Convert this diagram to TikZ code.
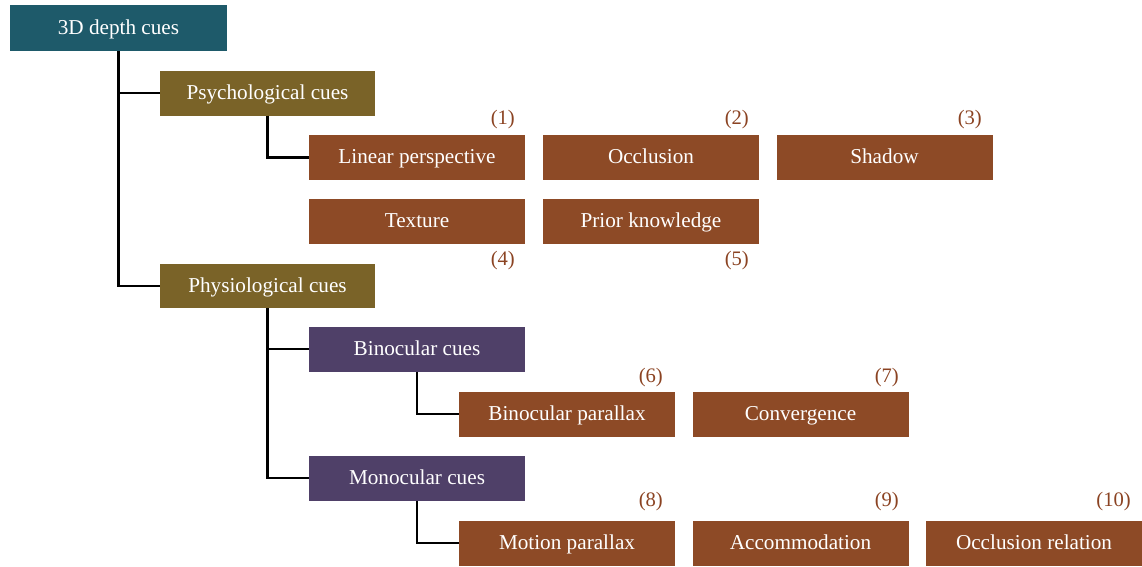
\documentclass[tikz,border=0pt]{standalone}
\usepackage{fontspec}
\setmainfont{Liberation Serif}
\definecolor{cteal}{HTML}{1E5A6A}
\definecolor{colive}{HTML}{7A6328}
\definecolor{cbrown}{HTML}{8D4A26}
\definecolor{cpurple}{HTML}{4F4068}
\definecolor{clabel}{HTML}{8B4322}
\tikzset{
  box/.style={rectangle, minimum width=216pt, minimum height=45pt, inner sep=0pt,
    text=white, font=\fontsize{21.2}{24}\selectfont, text height=16.5pt, text depth=4pt},
  rootbox/.style={box, fill=cteal, minimum width=217pt, minimum height=46pt},
  olivebox/.style={box, fill=colive, minimum width=215pt},
  purplebox/.style={box, fill=cpurple},
  leafbox/.style={box, fill=cbrown},
  numlabel/.style={anchor=east, inner sep=0pt, text=clabel, font=\fontsize{20.6}{24}\selectfont},
  conn/.style={draw=black, line width=2.6pt}
}
\begin{document}
\begin{tikzpicture}[x=1pt,y=-1pt]
\useasboundingbox (0,0) rectangle (1142,566);
\node[rootbox] (root) at (118.5,28) {3D depth cues};
\node[olivebox] (psych) at (267.5,93) {Psychological cues};
\node[leafbox] (linear) at (417,157.5) {Linear perspective};
\node[leafbox] (occl) at (651,157.5) {Occlusion};
\node[leafbox] (shadow) at (884.5,157.5) {Shadow};
\node[leafbox] (texture) at (417,221) {Texture};
\node[leafbox] (prior) at (651,221) {Prior knowledge};
\node[olivebox, minimum height=44pt] (physio) at (267.5,286) {Physiological cues};
\node[purplebox] (bino) at (417,349) {Binocular cues};
\node[leafbox] (bpar) at (567,414) {Binocular parallax};
\node[leafbox] (conv) at (800.5,414) {Convergence};
\node[purplebox] (mono) at (417,478) {Monocular cues};
\node[leafbox] (mpar) at (567,543) {Motion parallax};
\node[leafbox] (acc) at (800.5,543) {Accommodation};
\node[leafbox] (occrel) at (1034,543) {Occlusion relation};

\node[numlabel] (n1) at (515,120) {(1)};
\node[numlabel] (n2) at (749,120) {(2)};
\node[numlabel] (n3) at (982,120) {(3)};
\node[numlabel] (n4) at (515,261) {(4)};
\node[numlabel] (n5) at (749,261) {(5)};
\node[numlabel] (n6) at (663,378) {(6)};
\node[numlabel] (n7) at (899,378) {(7)};
\node[numlabel] (n8) at (663,502) {(8)};
\node[numlabel] (n9) at (899,502) {(9)};
\node[numlabel] (n10) at (1131,502) {(10)};

\draw[conn] (root.south) |- (psych.west);
\draw[conn] (root.south) |- (physio.west);
\draw[conn] (psych.south) |- (linear.west);
\draw[conn] (physio.south) |- (bino.west);
\draw[conn] (physio.south) |- (mono.west);
\draw[conn] (bino.south) |- (bpar.west);
\draw[conn] (mono.south) |- (mpar.west);
\end{tikzpicture}
\end{document}
